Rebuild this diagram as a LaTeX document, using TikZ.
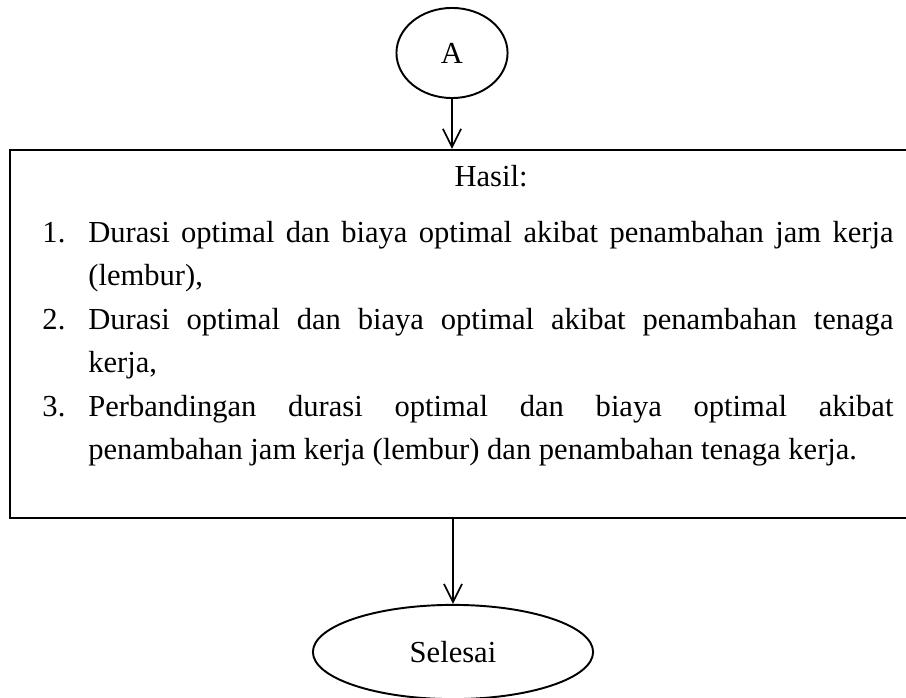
\documentclass[tikz,border=0pt]{standalone}
\usepackage{fontspec}
\setmainfont{Liberation Serif}
\usepackage{enumitem}
\usetikzlibrary{shapes.geometric,arrows.meta}
\hyphenpenalty=10000
\exhyphenpenalty=10000
\tolerance=9999
\newcommand\hurufdua{\fontsize{12.65}{18}\selectfont}

\begin{document}
\begin{tikzpicture}[x=0.414pt,y=-0.414pt,
  panah/.style={line width=0.7pt,-{Straight Barb[length=7.5pt,width=7.5pt,line width=0.7pt]}},
  bulat/.style={draw,ellipse,line width=0.8pt,inner sep=0pt,font=\hurufdua}]
  \useasboundingbox (0,0) rectangle (906,698);
  \node[bulat,minimum width=46pt,minimum height=37.3pt] (A) at (452,53) {A};
  \node[draw,line width=0.9pt,minimum width=373.4pt,minimum height=152.4pt,inner sep=0pt] (hasil) at (461,334) {};
  \node[anchor=base,font=\hurufdua] (judul) at (491,187) {Hasil:};
  \node[anchor=north west,inner sep=0pt,text width=352.3pt,align=justify,font=\hurufdua] (daftar) at (42,198.5) {%
    \begin{enumerate}[label=\arabic*.,leftmargin=19pt,labelwidth=19pt,labelsep=0pt,align=left,itemsep=0pt,topsep=0pt,parsep=0pt,partopsep=0pt]
      \item Durasi optimal dan biaya optimal akibat penambahan jam kerja\linebreak (lembur),
      \item Durasi optimal dan biaya optimal akibat penambahan tenaga\linebreak kerja,
      \item Perbandingan durasi optimal dan biaya optimal akibat\linebreak penambahan jam kerja (lembur) dan penambahan tenaga kerja.
    \end{enumerate}};
  \node[bulat,minimum width=116pt,minimum height=39pt] (selesai) at (453,652) {Selesai};
  \draw[panah] (A) -- (A |- hasil.north);
  \draw[panah] (hasil.south -| selesai) -- (selesai);
\end{tikzpicture}
\end{document}
